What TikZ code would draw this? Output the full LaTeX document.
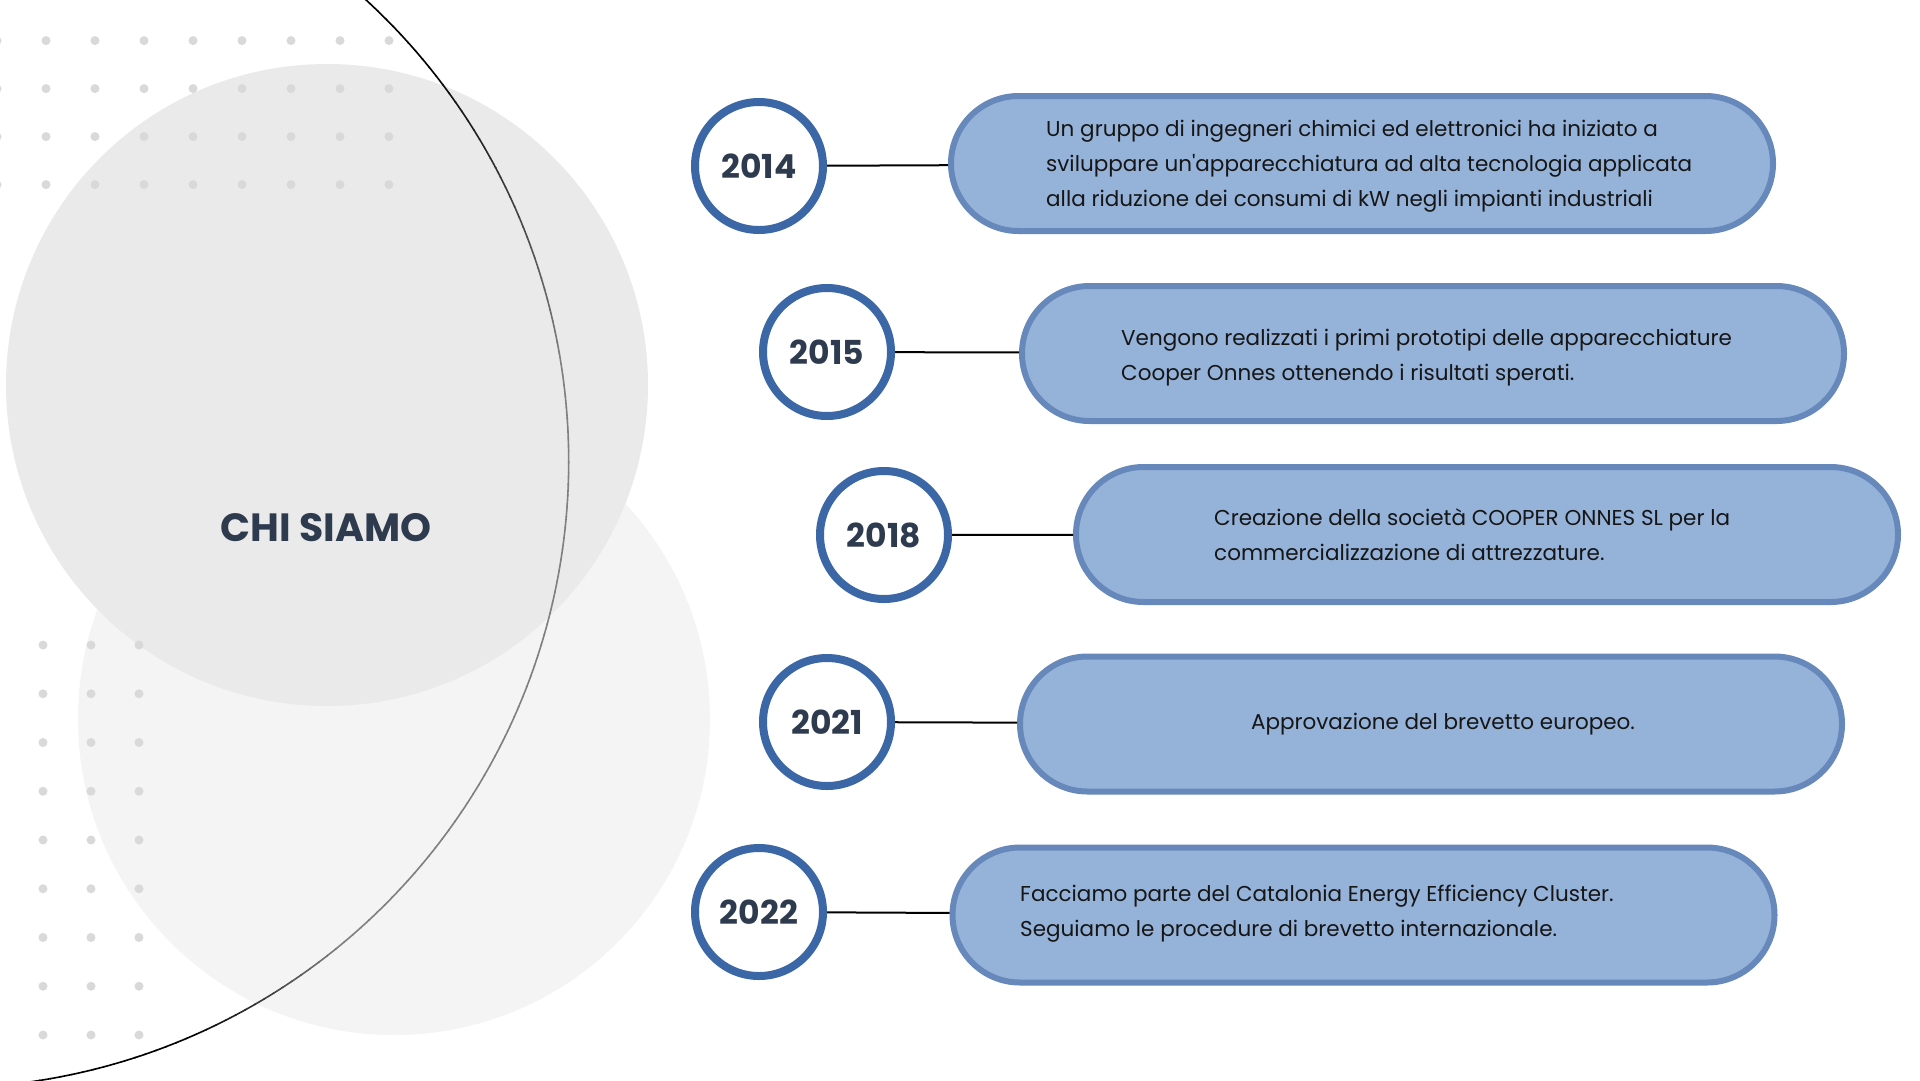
\documentclass[tikz,border=0pt]{standalone}
\usepackage{fontspec}
\setmainfont{Poppins}[Ligatures=TeXOff]
\usetikzlibrary{calc}
\definecolor{bgA}{HTML}{EAEAEA}
\definecolor{bgB}{HTML}{F4F4F4}
\definecolor{dotc}{HTML}{D9D9D9}
\definecolor{ringc}{HTML}{3B67A6}
\definecolor{pillfill}{HTML}{95B2D9}
\definecolor{pilledge}{HTML}{6788BA}
\definecolor{yearc}{HTML}{2E3B4F}
\definecolor{bodyc}{HTML}{161616}
\tikzset{
  yearnode/.style={circle, draw=ringc, line width=8pt, fill=white, minimum size=128pt, inner sep=0pt,
    text=yearc, font=\bfseries\fontsize{33}{33}\selectfont},
  pill/.style={rectangle, rounded corners=67.5pt, draw=pilledge, fill=pillfill, line width=6pt,
    minimum width=822pt, minimum height=135pt, inner sep=0pt},
  conn/.style={draw=black, line width=2pt},
  bodytxt/.style={align=left, inner sep=0pt, text=bodyc, font=\fontsize{21.5}{35}\selectfont},
  titletxt/.style={text=yearc, font=\bfseries\fontsize{39.4}{39.4}\selectfont, inner sep=0pt}
}
\begin{document}
\begin{tikzpicture}[x=1pt,y=-1pt]
\useasboundingbox (0,0) rectangle (1920,1080);
\clip (0,0) rectangle (1920,1080);
\fill[white] (0,0) rectangle (1920,1080);
% background circles
\fill[bgB] (394,719) circle[radius=316];
\fill[bgA] (327,385) circle[radius=321];
% dots
\foreach \i in {0,...,8}{\foreach \j in {0,...,3}{\fill[dotc] (-3+49*\i,40.6+48*\j) circle[radius=4.5];}}
\foreach \i in {0,...,3}{\foreach \j in {0,...,8}{\fill[dotc] (-5+48*\i,645+48.75*\j) circle[radius=4.5];}}
% large arc
\coordinate (arcC) at (-58,461.4);
\foreach \a in {-52,-51,...,86}{
  \pgfmathsetmacro\g{100-50*min(1,max(0,(\a+40)/30))*min(1,max(0,(66-\a)/16))}
  \draw[line width=1.6pt, color=black!\g] (arcC) ++(\a:626.7) arc[start angle=\a, end angle=\a+1.1, radius=626.7];
}
% title
\node[titletxt] (title) at (326,528) {CHI SIAMO};
% years
\node[yearnode] (y14) at (759,166) {2014};
\node[yearnode] (y15) at (827,352) {2015};
\node[yearnode] (y18) at (884,535) {2018};
\node[yearnode] (y21) at (827,722) {2021};
\node[yearnode] (y22) at (759,912) {2022};
% pills
\node[pill] (p14) at (1362,163.5) {};
\node[pill] (p15) at (1433,353.5) {};
\node[pill] (p18) at (1487,534.5) {};
\node[pill] (p21) at (1431,724) {};
\node[pill] (p22) at (1363.5,915) {};
% connectors
\draw[conn] (y14) -- (p14);
\draw[conn] (y15) -- (p15);
\draw[conn] (y18) -- (p18);
\draw[conn] (y21) -- (p21);
\draw[conn] (y22) -- (p22);
% texts
\node[bodytxt, anchor=west] (t14) at (1046,166) {Un gruppo di ingegneri chimici ed elettronici ha iniziato a\\sviluppare un'apparecchiatura ad alta tecnologia applicata\\alla riduzione dei consumi di kW negli impianti industriali};
\node[bodytxt, anchor=west] (t15) at (1121,358) {Vengono realizzati i primi prototipi delle apparecchiature\\Cooper Onnes ottenendo i risultati sperati.};
\node[bodytxt, anchor=west] (t18) at (1214,535) {Creazione della società COOPER ONNES SL per la\\commercializzazione di attrezzature.};
\node[bodytxt] (t21) at (1443,724) {Approvazione del brevetto europeo.};
\node[bodytxt, anchor=west] (t22) at (1020,914) {Facciamo parte del Catalonia Energy Efficiency Cluster.\\Seguiamo le procedure di brevetto internazionale.};
\end{tikzpicture}
\end{document}
